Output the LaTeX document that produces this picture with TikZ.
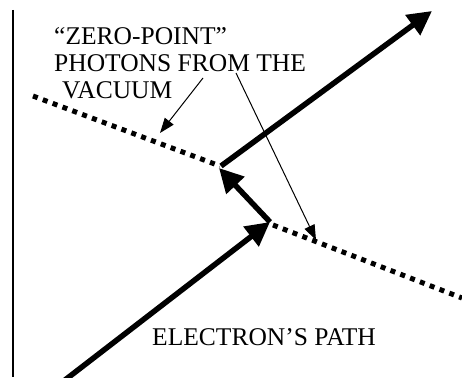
\documentclass[tikz,border=0pt]{standalone}
\usepackage{fontspec}
\setmainfont{Liberation Serif}
\usetikzlibrary{arrows.meta}
\begin{document}
\begin{tikzpicture}[x=1pt,y=-1pt,
  thick arrow/.style={line width=5.5pt,-{Triangle[length=24pt,width=24pt]}},
  thin arrow/.style={line width=1pt,-{Triangle[length=15pt,width=11pt]}},
  photon/.style={line width=5pt,dash pattern=on 5pt off 5.5pt},
  lbl/.style={font=\fontsize{25.5}{27}\selectfont,inner sep=0pt}]
\useasboundingbox (0,0) rectangle (462,377);
% coordinates
\coordinate (axtop) at (13,10);
\coordinate (axbot) at (13,377);
\coordinate (ph1a) at (33,96);
\coordinate (ph1b) at (220,166);
\coordinate (ph2a) at (273,225);
\coordinate (ph2b) at (462,298);
\coordinate (e0) at (65,380);
\coordinate (e1) at (270,222);
\coordinate (e2) at (219,168);
\coordinate (e2t) at (221,166);
\coordinate (e3) at (432,11);
\coordinate (p1) at (203,78);
\coordinate (p1t) at (160,133);
\coordinate (p2) at (236,73);
\coordinate (p2t) at (316,240);
% axis line
\draw[line width=1.3pt] (axtop) -- (axbot);
% photons
\draw[photon] (ph1a) -- (ph1b);
\draw[photon] (ph2a) -- (ph2b);
% electron path
\draw[thick arrow] (e0) -- (e1);
\draw[thick arrow] (e1) -- (e2);
\draw[thick arrow] (e2t) -- (e3);
% labels
\node[lbl,anchor=base west,align=left] (zp) at (54,99)
  {“ZERO-POINT”\\PHOTONS FROM THE\\\hspace*{8pt}VACUUM};
\node[lbl,anchor=base west] (ep) at (152,345) {ELECTRON’S PATH};
% pointer arrows
\draw[thin arrow] (p1) -- (p1t);
\draw[thin arrow] (p2) -- (p2t);
\end{tikzpicture}
\end{document}
